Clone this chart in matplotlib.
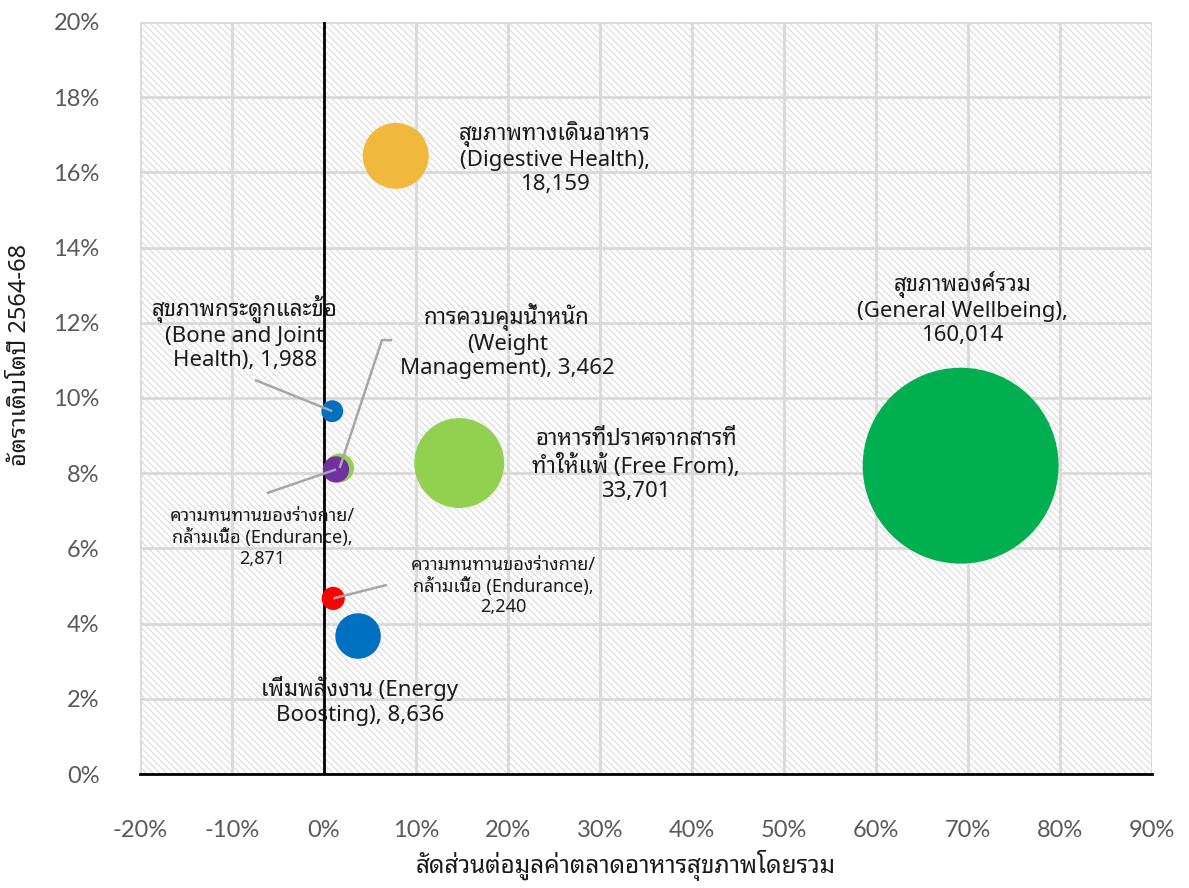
import matplotlib
matplotlib.use("Agg")
import matplotlib.pyplot as plt
from matplotlib.ticker import FuncFormatter

THAI = ["Noto Sans Thai Looped", "DejaVu Sans"]

# segment data: share of total health-food market (%), growth 2564-68 (%), value
labels = [
    "สุขภาพองค์รวม\n(General Wellbeing),\n160,014",
    "อาหารที่ปราศจากสารที่\nทำให้แพ้ (Free From),\n33,701",
    "สุขภาพทางเดินอาหาร\n(Digestive Health),\n18,159",
    "เพิ่มพลังงาน (Energy\nBoosting), 8,636",
    "การควบคุมน้ำหนัก\n(Weight\nManagement), 3,462",
    "ความทนทานของร่างกาย/\nกล้ามเนื้อ (Endurance),\n2,871",
    "ความทนทานของร่างกาย/\nกล้ามเนื้อ (Endurance),\n2,240",
    "สุขภาพกระดูกและข้อ\n(Bone and Joint\nHealth), 1,988",
]
share = [69.2, 14.7, 7.8, 3.7, 1.7, 1.3, 1.0, 0.9]
growth = [8.2, 8.27, 16.44, 3.67, 8.14, 8.1, 4.67, 9.65]
value = [160014, 33701, 18159, 8636, 3462, 2871, 2240, 1988]
colors = ["#00B050", "#92D050", "#F0B83C", "#0070C0", "#92D050", "#7030A0", "#FF0000", "#0070C0"]

# label placement (data coords) and leader-line elbows
label_pos = [(69.4, 12.38), (33.9, 8.2), (25.1, 16.38), (3.9, 1.94),
             (19.9, 11.52), (-6.7, 6.28), (19.5, 5.0), (-8.6, 11.73)]
label_size = [16, 16, 16, 16, 16, 13, 13, 16]
leaders = {
    4: [(6.3, 11.54), (7.4, 11.54)],
    5: [(-6.2, 7.47)],
    6: [(6.85, 5.03)],
    7: [(-7.5, 10.48)],
}

fig = plt.figure(figsize=(11.89, 8.88), dpi=100)
ax = fig.add_axes([140 / 1189, 1 - 774 / 888, 1012 / 1189, 752 / 888])

ax.set_xlim(-20, 90)
ax.set_ylim(0, 20)
ax.set_xticks(range(-20, 91, 10))
ax.set_yticks(range(0, 21, 2))
ax.xaxis.set_major_formatter(FuncFormatter(lambda v, p: f"{v:.0f}%"))
ax.yaxis.set_major_formatter(FuncFormatter(lambda v, p: f"{v:.0f}%"))

# hatched plot background
plt.rcParams["hatch.linewidth"] = 0.6
ax.patch.set_facecolor("white")
ax.patch.set_edgecolor("#E0E0E0")
ax.patch.set_hatch("\\\\\\\\\\")
ax.patch.set_linewidth(0)

ax.grid(True, color="#D9D9D9", linewidth=2)
ax.set_axisbelow(True)
for side in ["top", "right", "left"]:
    ax.spines[side].set_visible(False)
ax.spines["bottom"].set_color("black")
ax.spines["bottom"].set_linewidth(2)
ax.axvline(0, color="black", linewidth=2, zorder=2)

ax.tick_params(length=0, labelsize=17, labelcolor="#595959")
ax.tick_params(axis="x", pad=33)
ax.tick_params(axis="y", pad=29)
for t in ax.get_xticklabels() + ax.get_yticklabels():
    t.set_fontfamily(["Lato", "DejaVu Sans"])

# bubble area proportional to value
k = 19900 / 160014
ax.scatter(share, growth, s=[v * k for v in value], c=colors, linewidths=0, zorder=3)

for i, txt in enumerate(labels):
    if i in leaders:
        pts = [(share[i], growth[i])] + leaders[i]
        ax.plot([p[0] for p in pts], [p[1] for p in pts], color="#A6A6A6",
                linewidth=1.8, zorder=4, solid_capstyle="butt")
    ax.text(label_pos[i][0], label_pos[i][1], txt, ha="center", va="center",
            fontsize=label_size[i], family=THAI, color="#1A1A1A",
            linespacing=1.2, zorder=5)

ax.set_xlabel("สัดส่วนต่อมูลค่าตลาดอาหารสุขภาพโดยรวม", family=THAI,
              fontsize=17.5, fontweight="bold", color="#1A1A1A", va="center")
ax.xaxis.set_label_coords(0.48, -0.1223)
ax.set_ylabel("อัตราเติบโตปี 2564-68", family=THAI,
              fontsize=17, fontweight="bold", color="#1A1A1A", va="center")
ax.yaxis.set_label_coords(-0.1186, 0.557)

fig.savefig("out.png", dpi=100)
